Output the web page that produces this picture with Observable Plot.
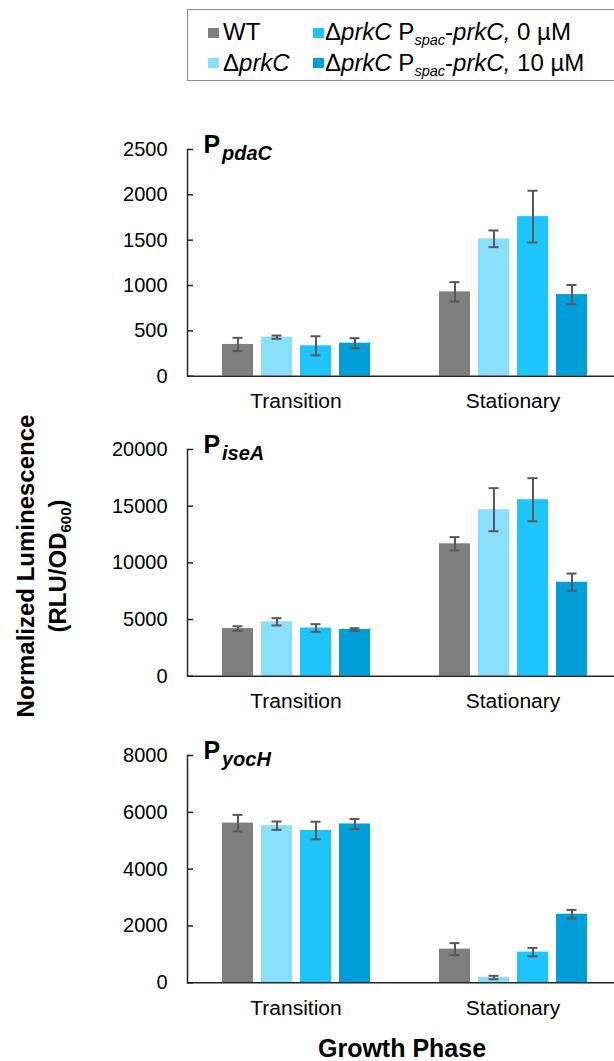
<!DOCTYPE html>
<html>
<head>
<meta charset="utf-8">
<script src="https://cdn.jsdelivr.net/npm/d3@7"></script>
<script src="https://cdn.jsdelivr.net/npm/@observablehq/plot@0.6"></script>
<style>
  html, body { margin: 0; padding: 0; background: #fff; }
  #root { position: relative; width: 614px; height: 1061px; overflow: hidden; font-family: "Liberation Sans", Arial, sans-serif; color: #000; }
  .leg-box { position: absolute; left: 187px; top: 9px; width: 460px; height: 72px; border: 1.5px solid #8c8c8c; box-sizing: border-box; }
  .leg-sq { position: absolute; width: 11px; height: 10px; }
  .leg-tx { position: absolute; font-size: 24px; line-height: 24px; white-space: nowrap; }
  .leg-tx sub { font-size: 14.5px; line-height: 0; vertical-align: -5px; }
  .ylab { position: absolute; width: 400px; height: 64px; line-height: 32px; font-size: 24px; font-weight: bold; text-align: center; transform: rotate(-90deg); white-space: nowrap; }
  .ylab sub { font-size: 15px; line-height: 0; vertical-align: -5px; }
  .xlab { position: absolute; width: 400px; font-size: 25px; line-height: 25px; font-weight: bold; text-align: center; }
</style>
</head>
<body>
<div id="root"></div>
<script>
// ---------- data ----------
const phases = ["Transition", "Stationary"];
const strains = ["WT", "ΔprkC", "ΔprkC Pspac-prkC, 0 µM", "ΔprkC Pspac-prkC, 10 µM"];
const strainLabelsHtml = [
  "WT",
  "Δ<i>prkC</i>",
  "Δ<i>prkC</i> P<sub><i>spac</i></sub>-<i>prkC,</i> 0 µM",
  "Δ<i>prkC</i> P<sub><i>spac</i></sub>-<i>prkC,</i> 10 µM"
];
const strainColors = ["#7f7f7f", "#8adffd", "#1ec4fc", "#009fda"];

// values ordered: Transition (WT, ΔprkC, 0 µM, 10 µM), then Stationary (same order)
const pdaCMean = [350, 430, 335, 364, 930, 1515, 1760, 900];
const pdaCErr  = [73, 18, 105, 55, 107, 92, 285, 106];
const pdaCTicks = [0, 500, 1000, 1500, 2000, 2500];

const iseAMean = [4200, 4800, 4250, 4120, 11680, 14690, 15570, 8290];
const iseAErr  = [200, 320, 340, 110, 590, 1900, 1900, 765];
const iseATicks = [0, 5000, 10000, 15000, 20000];

const yocHMean = [5620, 5530, 5360, 5590, 1185, 185, 1080, 2415];
const yocHErr  = [290, 147, 310, 176, 210, 60, 147, 150];
const yocHTicks = [0, 2000, 4000, 6000, 8000];

const promoters = ["pdaC", "iseA", "yocH"];

// ---------- layout ----------
const root = document.getElementById("root");
const FONT = "'Liberation Sans', Arial, sans-serif";
const AXIS = "#262626";

// legend
const legBox = document.createElement("div");
legBox.className = "leg-box";
root.appendChild(legBox);
const legPos = [
  {sq: [208, 27.7], tx: [223, 20.2]},
  {sq: [208, 57.8], tx: [223, 51.2]},
  {sq: [313, 27.7], tx: [325, 20.2]},
  {sq: [313, 57.8], tx: [325, 51.2]}
];
strains.forEach((s, i) => {
  const sq = document.createElement("div");
  sq.className = "leg-sq";
  sq.style.left = legPos[i].sq[0] + "px";
  sq.style.top = legPos[i].sq[1] + "px";
  sq.style.background = strainColors[i];
  root.appendChild(sq);
  const tx = document.createElement("div");
  tx.className = "leg-tx";
  tx.style.left = legPos[i].tx[0] + "px";
  tx.style.top = legPos[i].tx[1] + "px";
  tx.innerHTML = strainLabelsHtml[i];
  root.appendChild(tx);
});

// y label
const ylab = document.createElement("div");
ylab.className = "ylab";
ylab.style.left = (41.5 - 200) + "px";
ylab.style.top = (566 - 32) + "px";
ylab.innerHTML = "Normalized Luminescence<br>(RLU/OD<sub>600</sub>)";
root.appendChild(ylab);

// x label
const xlab = document.createElement("div");
xlab.className = "xlab";
xlab.style.left = (402 - 200) + "px";
xlab.style.top = "1036px";
xlab.textContent = "Growth Phase";
root.appendChild(xlab);

// panels
const panels = [
  {mean: pdaCMean, err: pdaCErr, ticks: pdaCTicks, top: 149, h: 226.7},
  {mean: iseAMean, err: iseAErr, ticks: iseATicks, top: 449, h: 226.7},
  {mean: yocHMean, err: yocHErr, ticks: yocHTicks, top: 755, h: 227.3}
];

const MT = 24, MB = 46, ML = 186;

panels.forEach((p, k) => {
  const rows = phases.flatMap((ph, i) => strains.map((s, j) => ({
    phase: ph, strain: s, mean: p.mean[i * 4 + j], err: p.err[i * 4 + j]
  })));
  const yMax = p.ticks[p.ticks.length - 1];
  const chart = Plot.plot({
    width: 614,
    height: MT + p.h + MB,
    marginTop: MT,
    marginBottom: MB,
    marginLeft: ML,
    marginRight: 0,
    style: {fontFamily: FONT, color: "#000", background: "transparent", overflow: "visible"},
    fx: {domain: phases, range: [ML, 621.6], padding: 0},
    x: {domain: strains, paddingInner: 0.21, paddingOuter: 0.875, axis: null},
    y: {domain: [0, yMax]},
    color: {domain: strains, range: strainColors},
    marks: [
      Plot.barY(rows, {fx: "phase", x: "strain", y: "mean", fill: "strain"}),
      Plot.ruleX(rows, {fx: "phase", x: "strain", y1: d => d.mean - d.err, y2: d => d.mean + d.err, stroke: "#595959", strokeWidth: 2}),
      Plot.tickY(rows, {fx: "phase", x: "strain", y: d => d.mean - d.err, stroke: "#595959", strokeWidth: 2, insetLeft: 10.5, insetRight: 10.5}),
      Plot.tickY(rows, {fx: "phase", x: "strain", y: d => d.mean + d.err, stroke: "#595959", strokeWidth: 2, insetLeft: 10.5, insetRight: 10.5}),
      Plot.ruleY([0], {stroke: AXIS, strokeWidth: 1.5}),
      Plot.frame({anchor: "left", facetAnchor: "left", stroke: AXIS, strokeWidth: 1.5}),
      Plot.axisY({ticks: p.ticks, tickSize: 6, dx: 6, tickFormat: () => "", stroke: AXIS, strokeWidth: 1.5, label: null}),
      Plot.axisY({ticks: p.ticks, tickSize: 0, tickPadding: 20, tickFormat: d => String(d), fontSize: 20, label: null}),
      Plot.axisFx({anchor: "bottom", tickSize: 0, tickPadding: 17, fontSize: 21, label: null}),
      Plot.text(["P"], {fx: ["Transition"], frameAnchor: "top-left", text: d => d, dx: 16, dy: 4, lineAnchor: "bottom", textAnchor: "start", fontSize: 25, fontWeight: "bold"}),
      Plot.text([promoters[k]], {fx: ["Transition"], frameAnchor: "top-left", text: d => d, dx: 34.5, dy: 11, lineAnchor: "bottom", textAnchor: "start", fontSize: 20, fontWeight: "bold", fontStyle: "italic"})
    ]
  });
  chart.style.position = "absolute";
  chart.style.left = "0px";
  chart.style.top = (p.top - MT) + "px";
  root.appendChild(chart);
});
</script>
</body>
</html>
